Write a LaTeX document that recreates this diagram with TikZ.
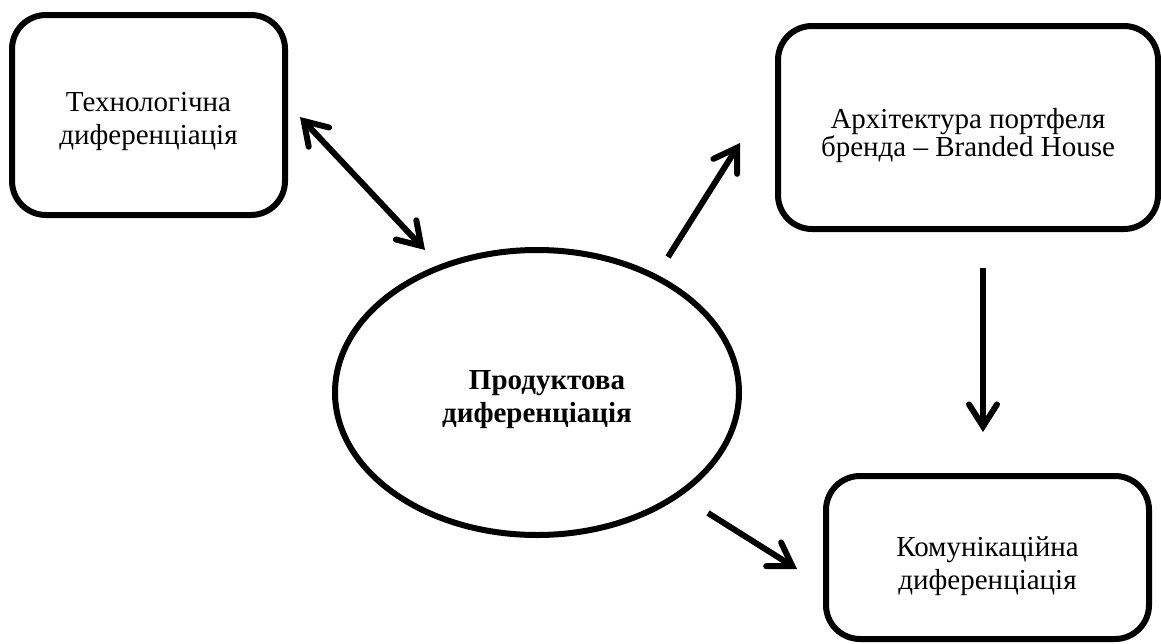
\documentclass[tikz,border=0pt]{standalone}
\usepackage{fontspec}
\setmainfont{Liberation Serif}
\usetikzlibrary{arrows.meta,calc,shapes.geometric}
\newcommand{\lowerby}[1]{\rule{0pt}{#1}}
\begin{document}
\begin{tikzpicture}[x=1pt,y=-1pt,
  box/.style={draw,line width=6pt,rounded corners=34pt,align=center,inner sep=0pt,outer sep=0pt},
  oval/.style={draw,ellipse,line width=6pt,align=center,inner sep=0pt,outer sep=0pt,font=\fontsize{29}{33}\selectfont\bfseries},
  tipshape/.style={},
  arr/.style={line width=6pt,-{Straight Barb[length=22pt,width=28pt,line cap=round]}},
  dblarr/.style={line width=6pt,{Straight Barb[length=22pt,width=28pt,line cap=round]}-{Straight Barb[length=22pt,width=28pt,line cap=round]}},
  ]
\useasboundingbox (0,0) rectangle (1161,643);
\node[box,minimum width=273pt,minimum height=200pt,font=\fontsize{29}{33}\selectfont] (t) at (148.5,115) {\lowerby{33pt}Технологічна\\диференціація};
\node[box,minimum width=380pt,minimum height=203pt,font=\fontsize{29}{26}\selectfont] (b) at (968,127.5) {\lowerby{36pt}Архітектура портфеля\\бренда – Branded House};
\node[box,minimum width=323pt,minimum height=163pt,font=\fontsize{29}{33}\selectfont] (k) at (987.5,557.5) {\lowerby{38pt}Комунікаційна\\диференціація};
\node[oval,minimum width=404pt,minimum height=285pt] (e) at (537,392.5) {\lowerby{33pt}\hspace*{20pt}Продуктова\\диференціація};
\draw[dblarr] ($(t.center)+(151.5,2)$) -- ($(e.center)+(-112,-142.5)$);
\draw[arr] ($(e.center)+(131,-135.5)$) -- ($(b.center)+(-228,15.5)$);
\draw[arr] ($(e.center)+(171,120.5)$) -- ($(k.center)+(-190.5,11.5)$);
\draw[arr] ($(b.center)+(15,140.5)$) -- ($(k.center)+(-4.5,-125.5)$);
\end{tikzpicture}
\end{document}
